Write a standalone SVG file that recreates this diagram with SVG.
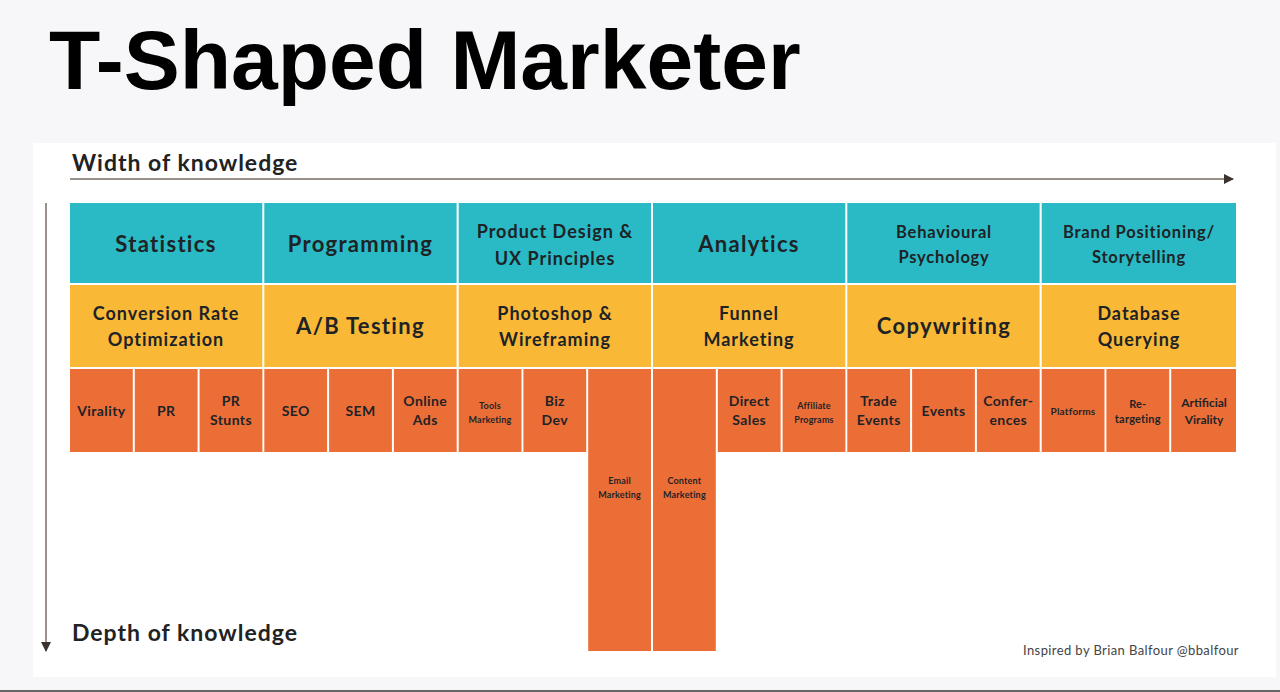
<svg xmlns="http://www.w3.org/2000/svg" width="1280" height="692" viewBox="0 0 1280 692">
<defs>
<style>
.title{font-family:"Liberation Sans",Arial,sans-serif;font-weight:700;font-size:84px;fill:#000}
.axis{font-family:Lato,"Open Sans",sans-serif;font-weight:700;font-size:23px;letter-spacing:1px;fill:#222}
.credit{font-family:Lato,"Open Sans",sans-serif;font-size:13px;letter-spacing:0.4px;fill:#444}
.c{fill:#29bac5}
.y{fill:#f9b937}
.o{fill:#ec6e37}
.t{font-family:Lato,"Open Sans",sans-serif;font-weight:700;fill:#1e2326;text-anchor:middle}
.l{font-size:22px;letter-spacing:1.3px}
.m{font-size:18px;letter-spacing:1px}
.m2{font-size:16.5px;letter-spacing:0.8px}
.s{font-size:14px;letter-spacing:0.4px}
.xs{font-size:10px;letter-spacing:0.2px}
.xxs{font-size:9px;letter-spacing:0.2px}
.ax{stroke:#9a918b;stroke-width:2;fill:none}
</style>
<marker id="ah" viewBox="0 0 10 10" refX="9" refY="5" markerWidth="10" markerHeight="10" markerUnits="userSpaceOnUse" orient="auto">
<path d="M0,0 L10,5 L0,10 Z" fill="#3a332f"/>
</marker>
</defs>
<rect width="1280" height="692" fill="#f7f7f9"/>
<rect x="33" y="143" width="1243" height="534" fill="#fff"/>
<line x1="0" y1="691" x2="1280" y2="691" stroke="#666" stroke-width="2"/>
<text class="title" x="49" y="89">T-Shaped Marketer</text>

<g id="connectors">
<line class="ax" x1="70" y1="179" x2="1233" y2="179" marker-end="url(#ah)"/>
<line class="ax" x1="46" y1="203" x2="46" y2="651" marker-end="url(#ah)"/>
</g>
<text class="axis" x="72" y="171">Width of knowledge</text>
<text class="axis" x="72" y="641">Depth of knowledge</text>
<text class="credit" x="1023" y="655">Inspired by Brian Balfour @bbalfour</text>

<g id="statistics"><rect class="c" x="70" y="203" width="192.3" height="80"/><text class="t l" x="166" y="252">Statistics</text></g>
<g id="programming"><rect class="c" x="264.3" y="203" width="192.3" height="80"/><text class="t l" x="360.5" y="252">Programming</text></g>
<g id="product-design"><rect class="c" x="458.7" y="203" width="192.3" height="80"/><text class="t m" x="555" y="238">Product Design &amp;</text><text class="t m" x="555" y="265">UX Principles</text></g>
<g id="analytics"><rect class="c" x="653" y="203" width="192.3" height="80"/><text class="t l" x="749" y="252">Analytics</text></g>
<g id="behavioural"><rect class="c" x="847.3" y="203" width="192.3" height="80"/><text class="t m2" x="944" y="238">Behavioural</text><text class="t m2" x="944" y="263">Psychology</text></g>
<g id="brand"><rect class="c" x="1041.7" y="203" width="194.3" height="80"/><text class="t m2" x="1139" y="238">Brand Positioning/</text><text class="t m2" x="1139" y="263">Storytelling</text></g>

<g id="cro"><rect class="y" x="70" y="285" width="192.3" height="82"/><text class="t m" x="166" y="320">Conversion Rate</text><text class="t m" x="166" y="346">Optimization</text></g>
<g id="ab-testing"><rect class="y" x="264.3" y="285" width="192.3" height="82"/><text class="t l" x="360.5" y="334">A/B Testing</text></g>
<g id="photoshop"><rect class="y" x="458.7" y="285" width="192.3" height="82"/><text class="t m" x="555" y="320">Photoshop &amp;</text><text class="t m" x="555" y="346">Wireframing</text></g>
<g id="funnel"><rect class="y" x="653" y="285" width="192.3" height="82"/><text class="t m" x="749" y="320">Funnel</text><text class="t m" x="749" y="346">Marketing</text></g>
<g id="copywriting"><rect class="y" x="847.3" y="285" width="192.3" height="82"/><text class="t l" x="944" y="334">Copywriting</text></g>
<g id="database"><rect class="y" x="1041.7" y="285" width="194.3" height="82"/><text class="t m" x="1139" y="320">Database</text><text class="t m" x="1139" y="346">Querying</text></g>

<g id="virality"><rect class="o" x="70" y="369" width="62.8" height="83"/><text class="t s" x="101.4" y="416">Virality</text></g>
<g id="pr"><rect class="o" x="134.8" y="369" width="62.8" height="83"/><text class="t s" x="166.2" y="416">PR</text></g>
<g id="pr-stunts"><rect class="o" x="199.6" y="369" width="62.8" height="83"/><text class="t s" x="231" y="406">PR</text><text class="t s" x="231" y="425">Stunts</text></g>
<g id="seo"><rect class="o" x="264.3" y="369" width="62.8" height="83"/><text class="t s" x="295.7" y="416">SEO</text></g>
<g id="sem"><rect class="o" x="329.1" y="369" width="62.8" height="83"/><text class="t s" x="360.5" y="416">SEM</text></g>
<g id="online-ads"><rect class="o" x="393.9" y="369" width="62.8" height="83"/><text class="t s" x="425.3" y="406">Online</text><text class="t s" x="425.3" y="425">Ads</text></g>
<g id="tools-marketing"><rect class="o" x="458.7" y="369" width="62.8" height="83"/><text class="t xxs" x="490" y="409">Tools</text><text class="t xxs" x="490" y="423">Marketing</text></g>
<g id="biz-dev"><rect class="o" x="523.4" y="369" width="62.8" height="83"/><text class="t s" x="554.8" y="406">Biz</text><text class="t s" x="554.8" y="425">Dev</text></g>
<g id="email-marketing"><rect class="o" x="588.2" y="369" width="62.8" height="282"/><text class="t xxs" x="619.6" y="484">Email</text><text class="t xxs" x="619.6" y="498">Marketing</text></g>
<g id="content-marketing"><rect class="o" x="653" y="369" width="62.8" height="282"/><text class="t xxs" x="684.4" y="484">Content</text><text class="t xxs" x="684.4" y="498">Marketing</text></g>
<g id="direct-sales"><rect class="o" x="717.8" y="369" width="62.8" height="83"/><text class="t s" x="749.2" y="406">Direct</text><text class="t s" x="749.2" y="425">Sales</text></g>
<g id="affiliate"><rect class="o" x="782.6" y="369" width="62.8" height="83"/><text class="t xxs" x="814" y="409">Affiliate</text><text class="t xxs" x="814" y="423">Programs</text></g>
<g id="trade-events"><rect class="o" x="847.3" y="369" width="62.8" height="83"/><text class="t s" x="878.7" y="406">Trade</text><text class="t s" x="878.7" y="425">Events</text></g>
<g id="events"><rect class="o" x="912.1" y="369" width="62.8" height="83"/><text class="t s" x="943.5" y="416">Events</text></g>
<g id="conferences"><rect class="o" x="976.9" y="369" width="62.8" height="83"/><text class="t s" x="1008.3" y="406">Confer-</text><text class="t s" x="1008.3" y="425">ences</text></g>
<g id="platforms"><rect class="o" x="1041.7" y="369" width="62.8" height="83"/><text class="t xs" x="1073" y="415">Platforms</text></g>
<g id="retargeting"><rect class="o" x="1106.4" y="369" width="62.8" height="83"/><text class="t xs" x="1137.8" y="408" style="font-size:11px">Re-</text><text class="t xs" x="1137.8" y="423" style="font-size:11px">targeting</text></g>
<g id="artificial-virality"><rect class="o" x="1171.2" y="369" width="64.8" height="83"/><text class="t" x="1204" y="407" style="font-size:12px">Artificial</text><text class="t" x="1204" y="424" style="font-size:12px">Virality</text></g>
</svg>
